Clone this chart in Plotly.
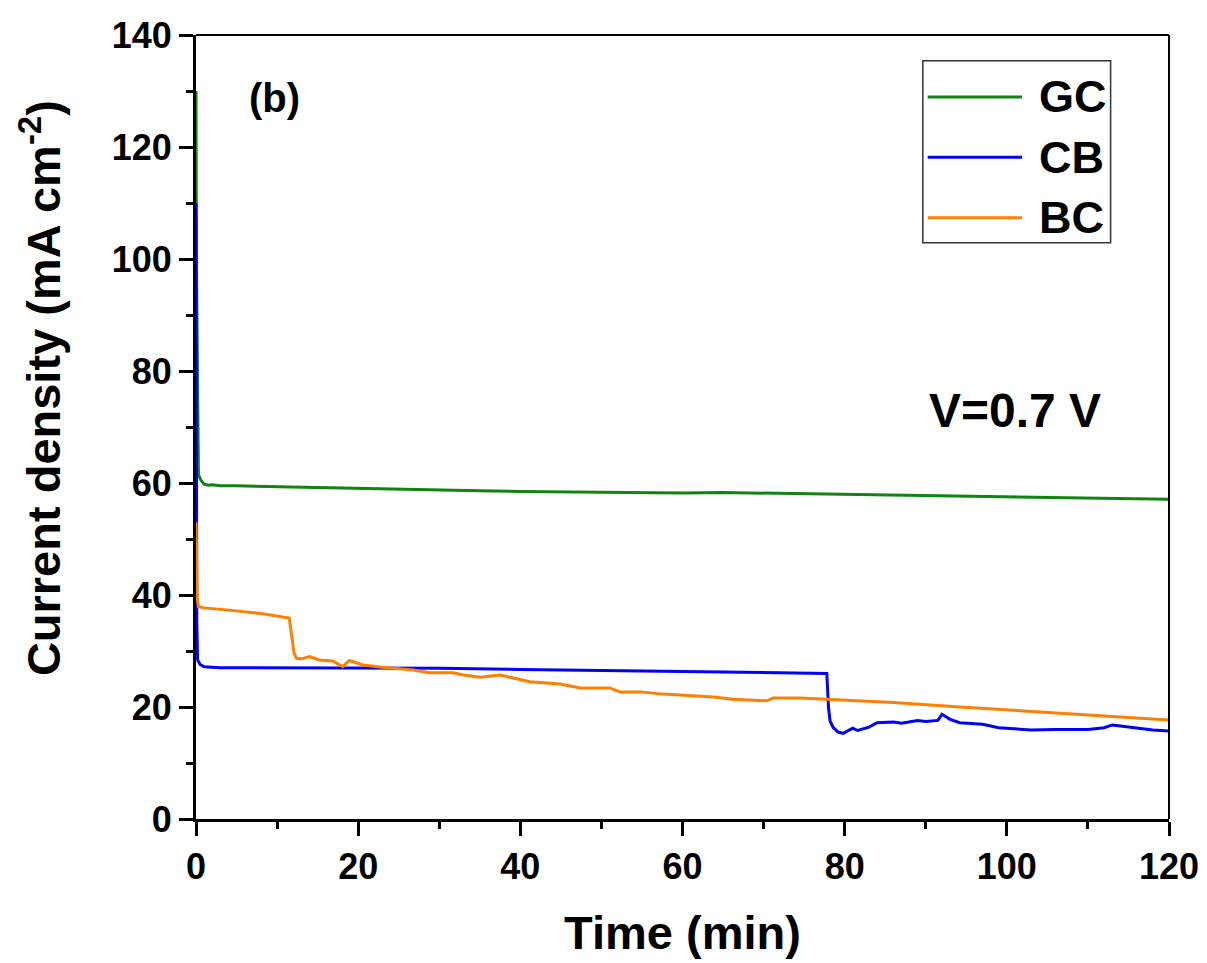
import plotly.graph_objects as go

# Chronoamperometry at V = 0.7 V: current density vs time for three catalysts
gc_time = [0, 0.05, 0.3, 0.6, 1, 1.5, 2, 3, 5, 8, 10, 15, 20, 25, 30, 35, 40, 45, 50,
           55, 60, 65, 70, 75, 80, 85, 90, 95, 100, 105, 110, 115, 120]
gc_current = [130, 100, 61.5, 60.5, 59.8, 59.6, 59.7, 59.5, 59.5, 59.4, 59.4, 59.2, 59.0,
              58.9, 58.7, 58.6, 58.5, 58.4, 58.3, 58.2, 58.2, 58.3, 58.2, 58.1, 58.0,
              57.9, 57.8, 57.7, 57.6, 57.5, 57.4, 57.3, 57.1]

cb_time = [0, 0.05, 0.1, 0.2, 0.5, 1, 1.6, 3, 5, 10, 20, 30, 40, 50, 60, 70, 77.8,
           78.0, 78.2, 78.6, 79.2, 79.8, 80.4, 81, 81.6, 82.3, 83, 84, 86, 87, 89, 90,
           91.5, 92, 92.5, 93, 94.2, 96, 97, 99, 101, 103, 106, 110, 112, 113, 114,
           116, 118, 120]
cb_current = [110, 60, 35, 28.4, 27.6, 27.2, 27.1, 27.0, 27.0, 27.0, 27.0, 26.9, 26.7,
              26.5, 26.3, 26.1, 26.0, 20.0, 17.5, 16.3, 15.5, 15.3, 15.8, 16.2, 15.8,
              16.1, 16.4, 17.2, 17.3, 17.1, 17.6, 17.4, 17.6, 18.7, 18.2, 17.8, 17.2,
              17.0, 16.9, 16.3, 16.1, 15.9, 16.0, 16.0, 16.3, 16.8, 16.6, 16.2, 15.9,
              15.7]

bc_time = [0, 0.05, 0.15, 0.3, 1, 4.1, 8, 11.5, 11.9, 12.1, 12.4, 13, 14, 15.2, 16.9,
           18.1, 18.9, 20.6, 23, 26.8, 28.8, 31.7, 33, 35, 37.5, 41.2, 44.9, 47.4, 51,
           52.3, 54.8, 57.6, 63.8, 66.2, 70.4, 71.2, 74.5, 77.8, 86, 94.2, 102.5,
           110.6, 120]
bc_current = [53, 44, 39.5, 37.9, 37.7, 37.3, 36.7, 35.9, 32, 29.6, 28.7, 28.6, 29.0,
              28.4, 28.2, 27.2, 28.3, 27.5, 27.1, 26.6, 26.1, 26.1, 25.7, 25.3, 25.7,
              24.5, 24.1, 23.4, 23.4, 22.7, 22.7, 22.3, 21.8, 21.4, 21.1, 21.6, 21.6,
              21.4, 20.8, 20.0, 19.3, 18.6, 17.7]

series_names = ["GC", "CB", "BC"]
series_colors = ["#128212", "#0000FF", "#FF8000"]

FONT = "Liberation Sans, Arial, sans-serif"

fig = go.Figure()
for name, t, j, color in zip(series_names,
                             [gc_time, cb_time, bc_time],
                             [gc_current, cb_current, bc_current],
                             series_colors):
    fig.add_trace(go.Scatter(x=t, y=j, mode="lines", name=name,
                             line=dict(color=color, width=3), showlegend=False))

axis_common = dict(
    showline=True, linecolor="black", linewidth=3, mirror=False,
    ticks="outside", ticklen=14, tickwidth=2.5, tickcolor="black",
    showgrid=False, zeroline=False, automargin=False,
    tickfont=dict(family=FONT, size=36, color="black", weight="bold"),
)

fig.update_xaxes(
    range=[0, 120], dtick=20, tick0=0,
    minor=dict(ticks="outside", ticklen=7, tickwidth=2.5, dtick=10, tickcolor="black"),
    title=dict(text="Time (min)", standoff=30,
               font=dict(family=FONT, size=47, color="black", weight="bold")),
    **axis_common,
)
fig.update_yaxes(
    range=[0, 140], dtick=20, tick0=0,
    minor=dict(ticks="outside", ticklen=7, tickwidth=2.5, dtick=10, tickcolor="black"),
    **axis_common,
)

# y-axis title, placed as rotated text to the left of the tick labels
fig.add_annotation(x=-0.160, y=0.55, xref="paper", yref="paper",
                   text="Current density (mA cm<sup>-2</sup>)", textangle=-90,
                   showarrow=False, xanchor="center", yanchor="middle",
                   font=dict(family=FONT, size=47, color="black", weight="bold"))

# thinner frame on the top and right sides
fig.add_shape(type="line", xref="paper", yref="paper", x0=0, x1=1, y0=1, y1=1,
              line=dict(color="black", width=2))
fig.add_shape(type="line", xref="paper", yref="paper", x0=1, x1=1, y0=0, y1=1,
              line=dict(color="black", width=2))

# legend box with long line samples
lx0, lx1, ly0, ly1 = 0.747, 0.940, 0.735, 0.967
fig.add_shape(type="rect", xref="paper", yref="paper", x0=lx0, x1=lx1, y0=ly0, y1=ly1,
              line=dict(color="#333333", width=1.5), fillcolor="white", layer="above")
row_y = [0.921, 0.844, 0.767]
for name, color, ry in zip(series_names, series_colors, row_y):
    fig.add_shape(type="line", xref="paper", yref="paper", x0=0.752, x1=0.849,
                  y0=ry, y1=ry, line=dict(color=color, width=3))
    fig.add_annotation(x=0.864, y=ry, xref="paper", yref="paper", text=name,
                       showarrow=False, xanchor="left", yanchor="middle",
                       font=dict(family=FONT, size=45, color="black", weight="bold"))

fig.add_annotation(x=9.7, y=128.7, text="(b)", showarrow=False,
                   font=dict(family=FONT, size=40, color="black", weight="bold"))
fig.add_annotation(x=101, y=73, text="V=0.7 V", showarrow=False,
                   font=dict(family=FONT, size=48, color="black", weight="bold"))

fig.update_layout(
    width=1207, height=963,
    margin=dict(l=196, r=38, t=35, b=144, autoexpand=False),
    paper_bgcolor="white", plot_bgcolor="white",
)

fig.write_html("out.html")
